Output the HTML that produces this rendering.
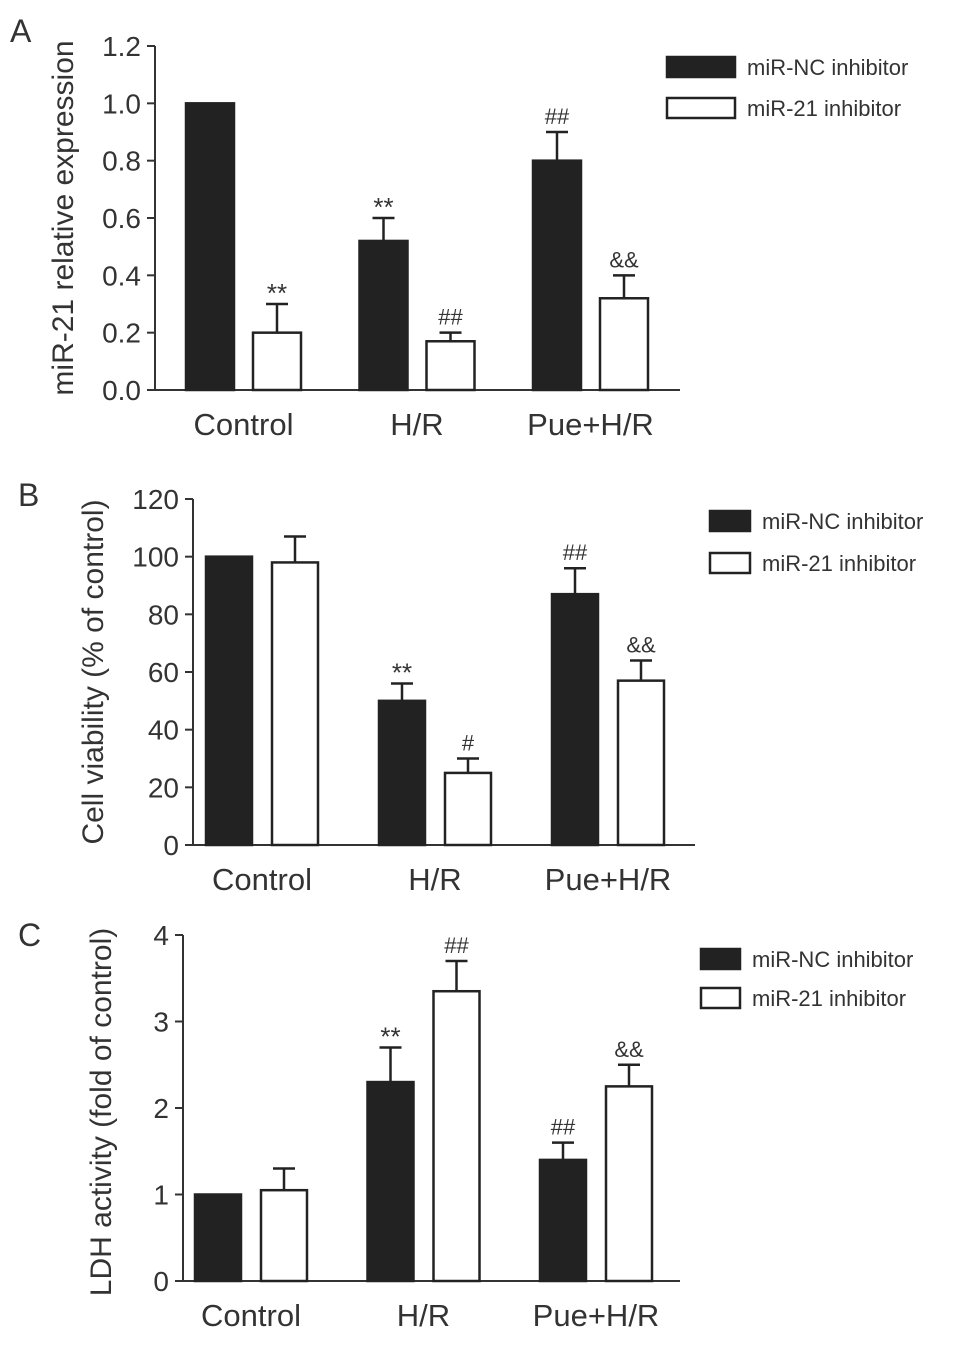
<!DOCTYPE html>
<html><head><meta charset="utf-8"><style>
body{margin:0;background:#fff;}
svg text{font-family:"Liberation Sans",sans-serif;fill:#333;}
</style></head><body>
<svg id="s" width="969" height="1344" xmlns="http://www.w3.org/2000/svg"></svg>
<script>
const categories=["Control","H/R","Pue+H/R"];
const seriesNames=["miR-NC inhibitor","miR-21 inhibitor"];
const aNC=[1.0,0.52,0.8], aNCerr=[0,0.08,0.1], a21=[0.2,0.17,0.32], a21err=[0.1,0.03,0.08];
const aNCsig=["","**","##"], a21sig=["**","##","&&"];
const aTicks=["0.0","0.2","0.4","0.6","0.8","1.0","1.2"];
const bNC=[100,50,87], bNCerr=[0,6,9], b21=[98,25,57], b21err=[9,5,7];
const bNCsig=["","**","##"], b21sig=["","#","&&"];
const bTicks=["0","20","40","60","80","100","120"];
const cNC=[1.0,2.3,1.4], cNCerr=[0,0.4,0.2], c21=[1.05,3.35,2.25], c21err=[0.25,0.35,0.25];
const cNCsig=["","**","##"], c21sig=["","##","&&"];
const cTicks=["0","1","2","3","4"];

const S=document.getElementById('s');
function el(tag,attrs,text){const e=document.createElementNS('http://www.w3.org/2000/svg',tag);for(const k in attrs)e.setAttribute(k,attrs[k]);if(text!==undefined)e.textContent=text;S.appendChild(e);return e;}

function panel(p){
  const y=v=>p.y0-(v-p.min)/(p.max-p.min)*(p.y0-p.yTop);
  let t=el('text',{x:p.lx,y:p.ly,'font-size':32},p.id);
  
  
  let l=el('line',{x1:p.ax,y1:p.yTop,x2:p.ax,y2:p.y0,stroke:'#333','stroke-width':2});
  
  l=el('line',{x1:p.ax,y1:p.y0,x2:p.xEnd,y2:p.y0,stroke:'#333','stroke-width':2});
  
  p.ticks.forEach(tk=>{const v=parseFloat(tk),yy=y(v);
    el('line',{x1:p.ax-8,y1:yy,x2:p.ax,y2:yy,stroke:'#333','stroke-width':2});
    t=el('text',{x:p.ax-14,y:yy+10,'font-size':28,'text-anchor':'end'},tk);
    });
  t=el('text',{x:0,y:0,'font-size':30,'text-anchor':'middle',transform:`translate(${p.ylx},${p.yly}) rotate(-90)`},p.ytitle);
  
  categories.forEach((c,i)=>{
    const gx=p.g0+i*p.gs;
    [[p.nc,p.ncErr,p.ncSig,'#222',0],[p.w,p.wErr,p.wSig,'#fff',1]].forEach(([vals,errs,sig,fill,k])=>{
      const x=gx+k*p.off, top=y(vals[i]), et=y(vals[i]+errs[i]), cx=x+p.bw/2;
      if(errs[i]>0){el('line',{x1:cx,y1:top,x2:cx,y2:et,stroke:'#222','stroke-width':2.5});
        el('line',{x1:cx-11,y1:et,x2:cx+11,y2:et,stroke:'#222','stroke-width':2.5});}
      const r=el('rect',{x:x,y:top,width:p.bw,height:p.y0-top,fill:fill,stroke:'#222','stroke-width':2.5});
      
      
      if(sig[i]){t=el('text',{x:cx,y:et-8,'font-size':sig[i].includes('*')?26:22,'text-anchor':'middle'},sig[i]);
        if(sig[i].includes('*'))t.setAttribute('dy','6');
        }
    });
    t=el('text',{x:gx+(p.off+p.bw)/2,y:p.y0+45,'font-size':31,'text-anchor':'middle'},c);
    
  });
  seriesNames.forEach((n,k)=>{
    const yy=p.legY+k*p.legGap;
    const r=el('rect',{x:p.legX,y:yy,width:p.legW,height:20,fill:k?'#fff':'#222',stroke:'#222','stroke-width':2.5});
    
    t=el('text',{x:p.legX+p.legW+12,y:yy+18,'font-size':22},n);
    
  });
}
panel({id:'A',lx:10,ly:42,ax:155,yTop:46,y0:390,min:0,max:1.2,xEnd:680,ticks:aTicks,ytitle:'miR-21 relative expression',ylx:73,yly:218,
  g0:186,gs:173.5,off:67,bw:48,nc:aNC,ncErr:aNCerr,ncSig:aNCsig,w:a21,wErr:a21err,wSig:a21sig,legX:667,legY:57,legGap:41,legW:68});
panel({id:'B',lx:18,ly:506,ax:193,yTop:499,y0:845,min:0,max:120,xEnd:695,ticks:bTicks,ytitle:'Cell viability (% of control)',ylx:103,yly:672,
  g0:206,gs:173,off:66,bw:46,nc:bNC,ncErr:bNCerr,ncSig:bNCsig,w:b21,wErr:b21err,wSig:b21sig,legX:710,legY:511,legGap:42,legW:40});
panel({id:'C',lx:18,ly:946,ax:183,yTop:935,y0:1281,min:0,max:4,xEnd:680,ticks:cTicks,ytitle:'LDH activity (fold of control)',ylx:111,yly:1112,
  g0:195,gs:172.5,off:66,bw:46,nc:cNC,ncErr:cNCerr,ncSig:cNCsig,w:c21,wErr:c21err,wSig:c21sig,legX:701,legY:949,legGap:39,legW:39});
</script>
</body></html>
